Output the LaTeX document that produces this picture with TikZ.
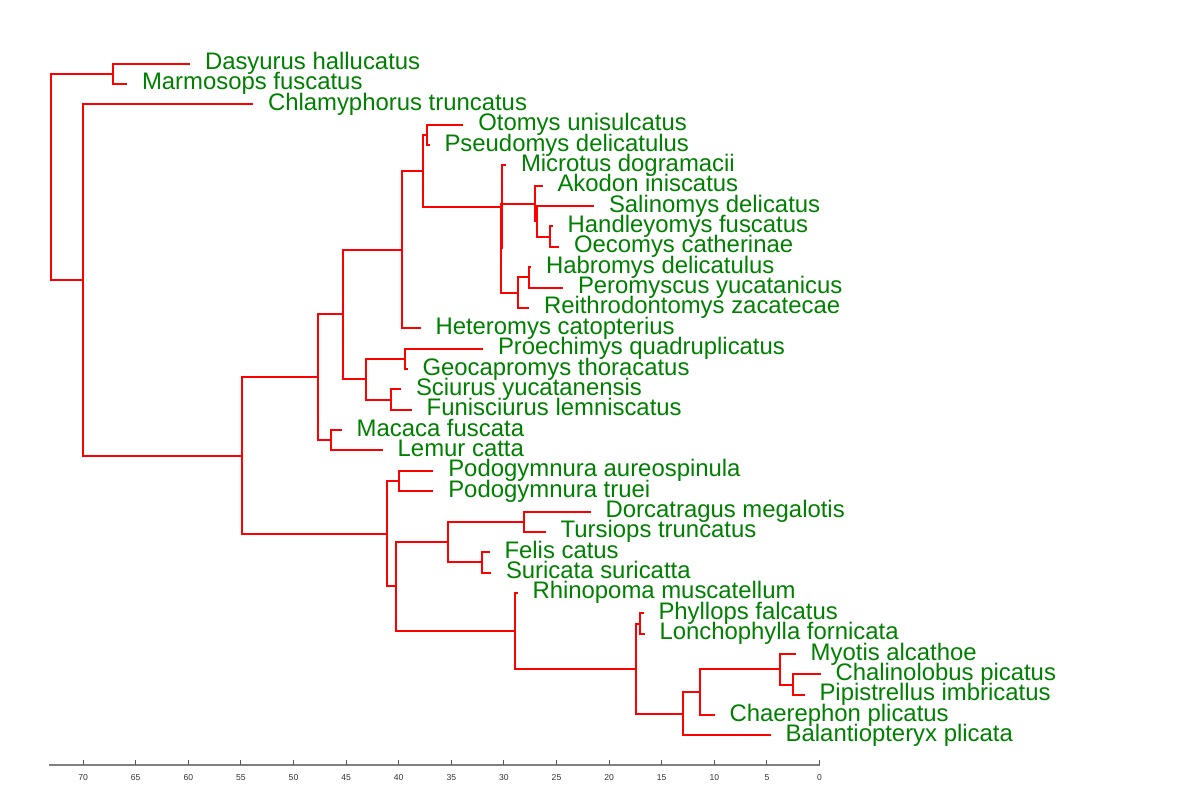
\documentclass[tikz,border=0pt]{standalone}
\usepackage{fontspec}
\setmainfont{Liberation Sans}
\begin{document}
\begin{tikzpicture}[x=0.5pt,y=-0.5pt,
  br/.style={draw={rgb,255:red,255;green,0;blue,0},line width=1pt,line join=miter},
  lab/.style={anchor=base west,inner sep=0pt,xshift=7.3pt,yshift=-3pt,
    text={rgb,255:red,0;green,128;blue,0},font=\fontsize{11.95}{14}\selectfont},
  axisline/.style={draw=black!50,line width=0.6pt},
  tickmark/.style={draw=black!65,line width=0.5pt},
  ticklab/.style={text=black!80,font=\fontsize{4.3}{5}\selectfont,inner sep=0pt}]
\useasboundingbox (0,0) rectangle (1200,800);
% leaf tips
\coordinate (t1) at (190,63.6);
\coordinate (t2) at (127,83.96);
\coordinate (t3) at (253,104.32);
\coordinate (t4) at (463.3,124.68);
\coordinate (t5) at (429.5,145.04);
\coordinate (t6) at (506,165.4);
\coordinate (t7) at (542.5,185.76);
\coordinate (t8) at (594,206.12);
\coordinate (t9) at (552.7,226.48);
\coordinate (t10) at (559,246.84);
\coordinate (t11) at (531,267.2);
\coordinate (t12) at (563,287.56);
\coordinate (t13) at (529,307.92);
\coordinate (t14) at (420.5,328.28);
\coordinate (t15) at (483,348.64);
\coordinate (t16) at (407.5,369.0);
\coordinate (t17) at (401,389.36);
\coordinate (t18) at (411.7,409.72);
\coordinate (t19) at (341.7,430.08);
\coordinate (t20) at (382.7,450.44);
\coordinate (t21) at (433.3,470.8);
\coordinate (t22) at (433.3,491.16);
\coordinate (t23) at (590.7,511.52);
\coordinate (t24) at (545.7,531.88);
\coordinate (t25) at (489.5,552.24);
\coordinate (t26) at (491,572.6);
\coordinate (t27) at (517.5,592.96);
\coordinate (t28) at (643.5,613.32);
\coordinate (t29) at (644.5,633.68);
\coordinate (t30) at (795.7,654.04);
\coordinate (t31) at (820.5,674.4);
\coordinate (t32) at (804.5,694.76);
\coordinate (t33) at (714.5,715.12);
\coordinate (t34) at (770.7,735.48);
% internal nodes
\coordinate (P1) at (113.3,73.78);
\coordinate (K) at (427.3,134.86);
\coordinate (HO) at (550,236.66);
\coordinate (M2) at (537,221.39);
\coordinate (M) at (535.3,203.58);
\coordinate (N2) at (528.5,277.38);
\coordinate (N) at (518.3,292.65);
\coordinate (L2) at (501,248.11);
\coordinate (L) at (502.3,206.76);
\coordinate (J) at (423,170.81);
\coordinate (F) at (402.3,249.55);
\coordinate (H) at (405,358.82);
\coordinate (I) at (390.7,399.54);
\coordinate (G) at (365.5,379.18);
\coordinate (E) at (343.3,314.36);
\coordinate (ML) at (330.7,440.26);
\coordinate (C) at (318,377.31);
\coordinate (PG) at (399,480.98);
\coordinate (T) at (524,521.7);
\coordinate (U) at (481.7,562.42);
\coordinate (R) at (447.7,542.06);
\coordinate (W) at (640,623.5);
\coordinate (ZZ) at (793.3,684.58);
\coordinate (Z) at (780,669.31);
\coordinate (Y) at (700,692.21);
\coordinate (X) at (683.3,713.85);
\coordinate (V) at (635.7,668.67);
\coordinate (S) at (515,630.82);
\coordinate (Q) at (395.7,586.44);
\coordinate (D) at (386.7,533.71);
\coordinate (B) at (242,455.51);
\coordinate (A) at (83.3,279.92);
\coordinate (Root) at (51,176.85);
% branches: (child1) -| (parent) |- (child2)
\foreach \a/\p/\b in {t1/P1/t2, t4/K/t5, t9/HO/t10, t8/M2/HO, t7/M/M2,
  t11/N2/t12, N2/N/t13, M/L2/N, t6/L/L2, K/J/L, J/F/t14,
  t15/H/t16, t17/I/t18, H/G/I, F/E/G, t19/ML/t20, E/C/ML,
  t21/PG/t22, t23/T/t24, t25/U/t26, T/R/U, t28/W/t29,
  t31/ZZ/t32, t30/Z/ZZ, Z/Y/t33, Y/X/t34, W/V/X, t27/S/V,
  R/Q/S, PG/D/Q, C/B/D, t3/A/B, P1/Root/A}
  {\draw[br] (\a) -| (\p) |- (\b);}
% labels
\node[lab] (l1) at (t1) {Dasyurus hallucatus};
\node[lab] (l2) at (t2) {Marmosops fuscatus};
\node[lab] (l3) at (t3) {Chlamyphorus truncatus};
\node[lab] (l4) at (t4) {Otomys unisulcatus};
\node[lab] (l5) at (t5) {Pseudomys delicatulus};
\node[lab] (l6) at (t6) {Microtus dogramacii};
\node[lab] (l7) at (t7) {Akodon iniscatus};
\node[lab] (l8) at (t8) {Salinomys delicatus};
\node[lab] (l9) at (t9) {Handleyomys fuscatus};
\node[lab] (l10) at (t10) {Oecomys catherinae};
\node[lab] (l11) at (t11) {Habromys delicatulus};
\node[lab] (l12) at (t12) {Peromyscus yucatanicus};
\node[lab] (l13) at (t13) {Reithrodontomys zacatecae};
\node[lab] (l14) at (t14) {Heteromys catopterius};
\node[lab] (l15) at (t15) {Proechimys quadruplicatus};
\node[lab] (l16) at (t16) {Geocapromys thoracatus};
\node[lab] (l17) at (t17) {Sciurus yucatanensis};
\node[lab] (l18) at (t18) {Funisciurus lemniscatus};
\node[lab] (l19) at (t19) {Macaca fuscata};
\node[lab] (l20) at (t20) {Lemur catta};
\node[lab] (l21) at (t21) {Podogymnura aureospinula};
\node[lab] (l22) at (t22) {Podogymnura truei};
\node[lab] (l23) at (t23) {Dorcatragus megalotis};
\node[lab] (l24) at (t24) {Tursiops truncatus};
\node[lab] (l25) at (t25) {Felis catus};
\node[lab] (l26) at (t26) {Suricata suricatta};
\node[lab] (l27) at (t27) {Rhinopoma muscatellum};
\node[lab] (l28) at (t28) {Phyllops falcatus};
\node[lab] (l29) at (t29) {Lonchophylla fornicata};
\node[lab] (l30) at (t30) {Myotis alcathoe};
\node[lab] (l31) at (t31) {Chalinolobus picatus};
\node[lab] (l32) at (t32) {Pipistrellus imbricatus};
\node[lab] (l33) at (t33) {Chaerephon plicatus};
\node[lab] (l34) at (t34) {Balantiopteryx plicata};
% axis
\coordinate (ax0) at (49,765);
\coordinate (ax1) at (819.5,765);
\draw[axisline] (ax0) -- (ax1);
\foreach \v in {0,5,...,70}{
  \coordinate (tk\v) at ({819.5-10.52*\v},765);
  \draw[tickmark] (tk\v) -- ++(0,-5);
  \node[ticklab] (tl\v) at ([yshift=-6.5pt]tk\v) {\v};
}
\end{tikzpicture}
\end{document}
